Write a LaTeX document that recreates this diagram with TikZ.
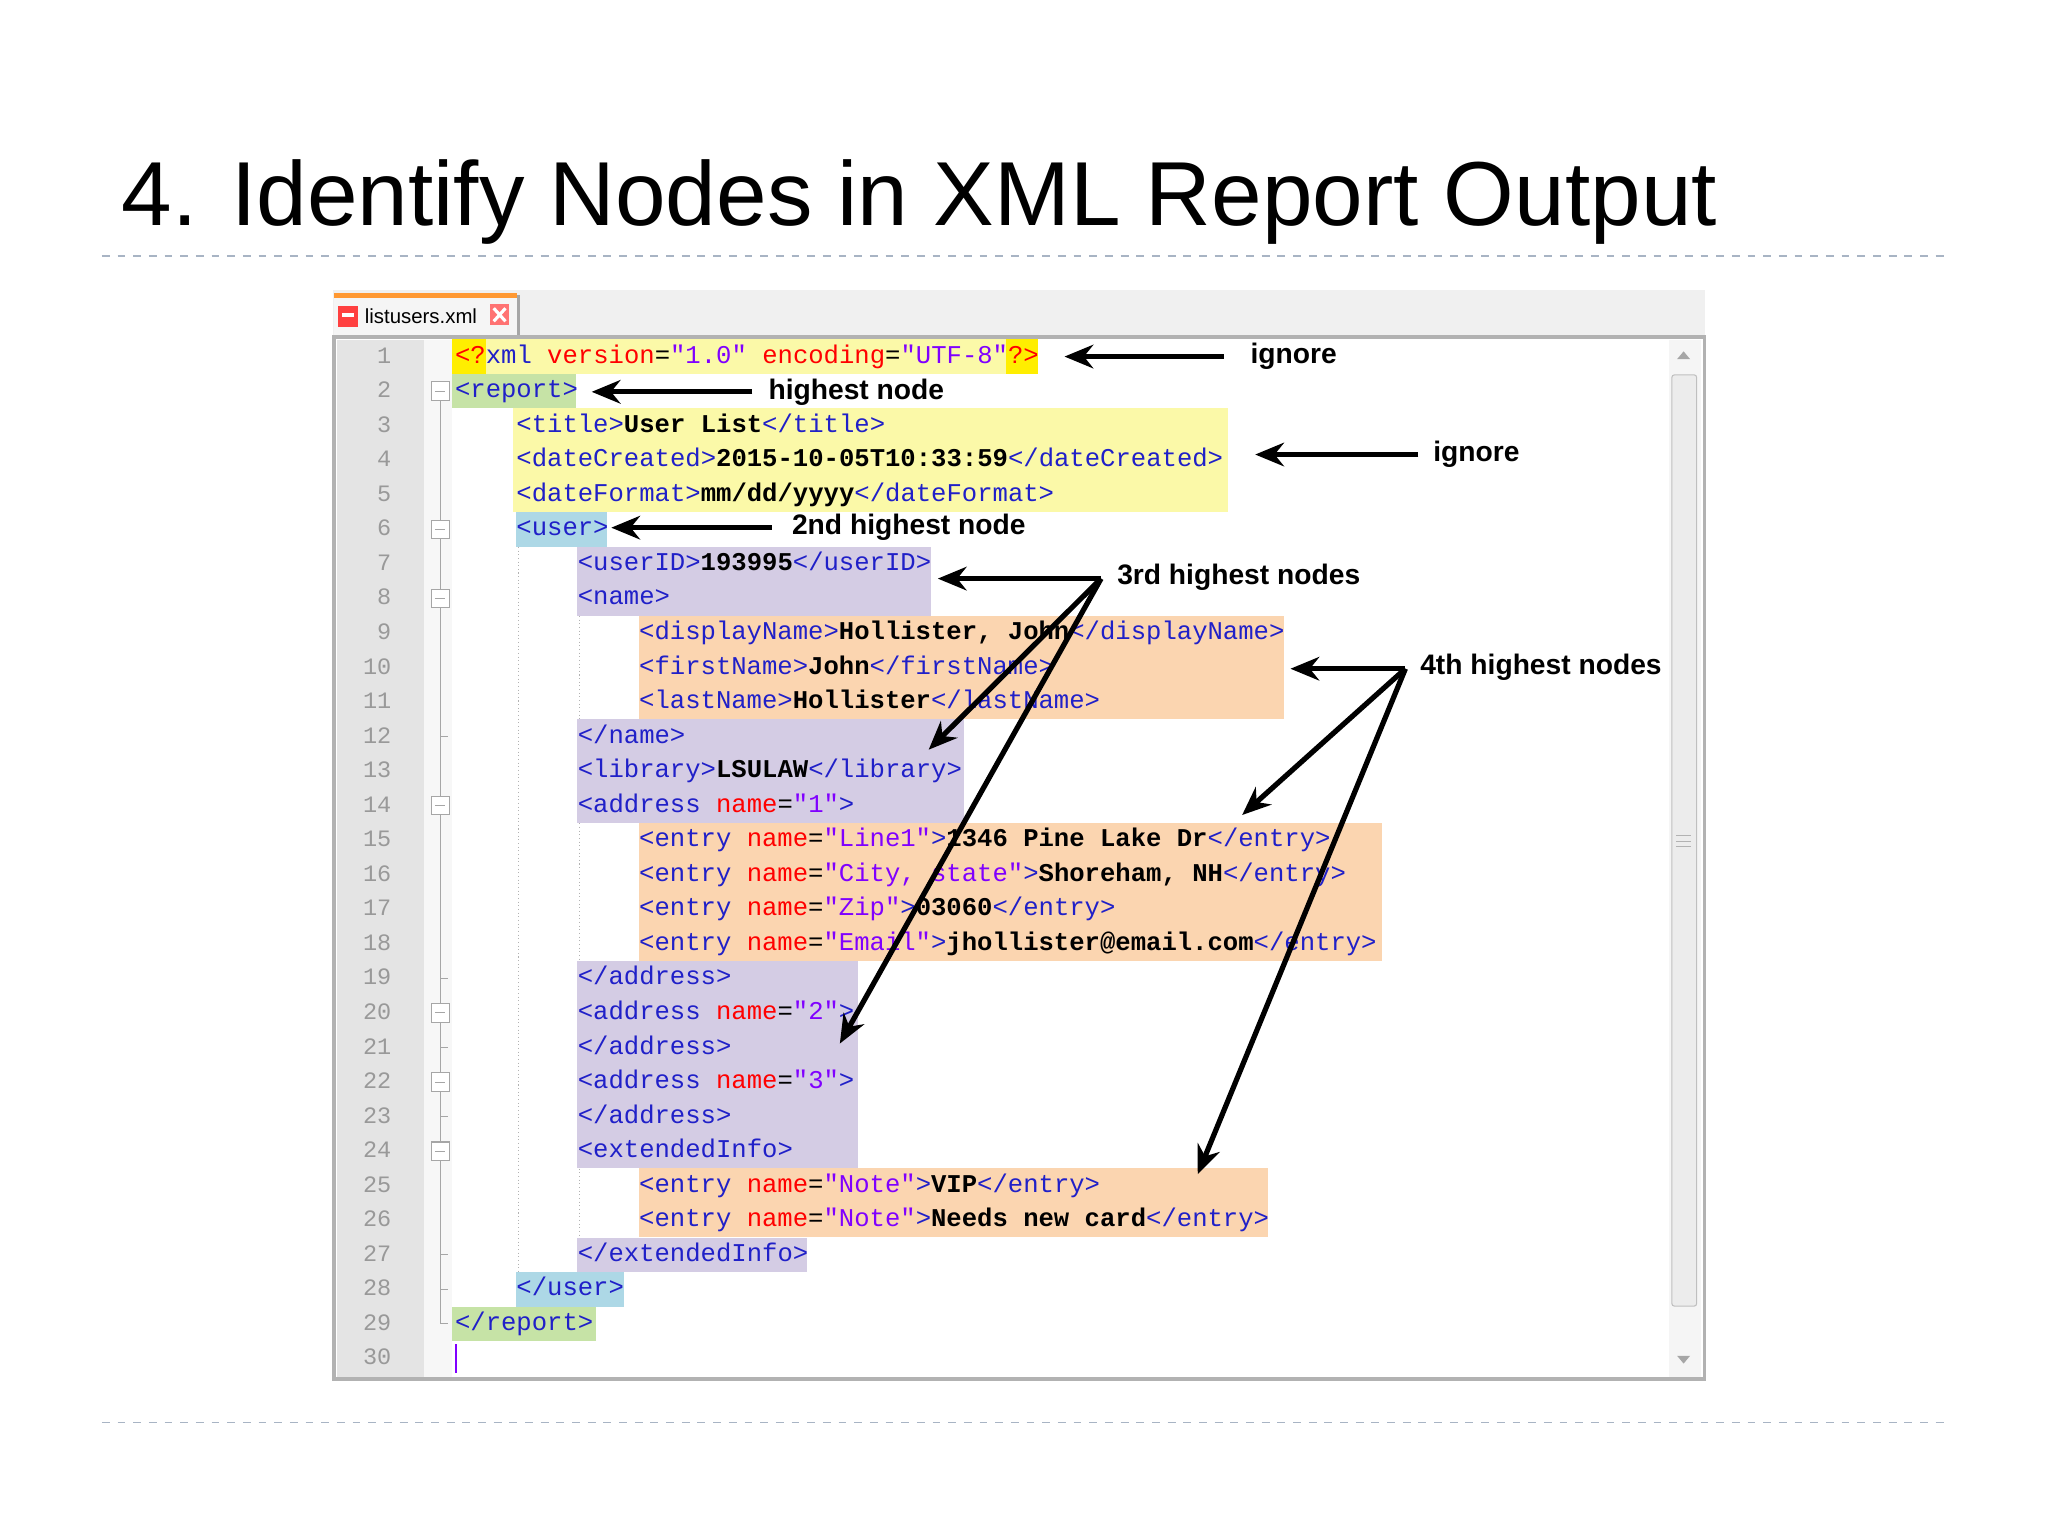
\documentclass[tikz,border=0pt]{standalone}
\usepackage{fontspec}
\setmainfont{Liberation Sans}
\newfontfamily\monof{Liberation Mono}
\usetikzlibrary{arrows.meta}
\definecolor{tagc}{HTML}{2020C8}
\definecolor{attc}{HTML}{FF0000}
\definecolor{valc}{HTML}{8000FF}
\definecolor{hlY}{HTML}{FBF9A8}
\definecolor{hlYY}{HTML}{FFEE00}
\definecolor{hlG}{HTML}{C6E3A6}
\definecolor{hlB}{HTML}{ADD8E6}
\definecolor{hlP}{HTML}{D4CCE4}
\definecolor{hlO}{HTML}{FBD5B0}
\definecolor{gut}{HTML}{E4E4E4}
\definecolor{dashc}{HTML}{A8B4C4}
\newcommand\tg[1]{\textcolor{tagc}{#1}}
\newcommand\at[1]{\textcolor{attc}{#1}}
\newcommand\va[1]{\textcolor{valc}{#1}}
\newcommand\tx[1]{\textbf{#1}}
\begin{document}
\begin{tikzpicture}[x=0.5pt,y=-0.5pt,
  code/.style={anchor=base west,inner sep=0pt,font=\monof\fontsize{9.8}{10}\selectfont},
  lnum/.style={anchor=base east,inner sep=0pt,text=gray!80,font=\monof\fontsize{9}{10}\selectfont},
  lbl/.style={anchor=west,inner sep=0pt,font=\bfseries\fontsize{10.8}{12}\selectfont},
  arr/.style={line width=2pt,-{Stealth[length=11pt,width=9pt]}}]
\useasboundingbox (0,0) rectangle (1568,1176);
\fill[white] (0,0) rectangle (1568,1176);
% title
\node[anchor=base west,inner sep=0pt,font=\fontsize{34.8}{40}\selectfont] (title) at (93,173) {4. Identify Nodes in XML Report Output};
\draw[dashc,dashed,line width=0.6pt] (78,196) -- (1490,196);
\draw[dashc,dashed,line width=0.6pt] (78,1089) -- (1490,1089);
% window
\fill[gray!12] (255,222) rectangle (1305,258);
\fill[gray!8] (256,226) rectangle (396,257);
\fill[orange!80] (256,224) rectangle (396,228);
\draw[gray!70,line width=1pt] (397,226) -- (397,257);
\fill[red!75] (259,234) rectangle (274,250);
\fill[white] (262,240) rectangle (271,243);
\node[anchor=west,inner sep=0pt,font=\fontsize{7.8}{9}\selectfont] (tab) at (279,242) {listusers.xml};
\fill[red!55] (375,233) rectangle (390,249);
\draw[white,line width=1.2pt] (378,236) -- (387,246) (387,236) -- (378,246);
\draw[gray!60,line width=1.5pt,fill=white] (256,258) rectangle (1305,1056);
\fill[gut] (258,260) rectangle (325,1054);
\fill[gray!6] (325,260) rectangle (346,1054);
% scrollbar
\fill[gray!8] (1278,260) rectangle (1302,1054);
\draw[gray!50,fill=gray!15,rounded corners=1pt] (1280,287) rectangle (1299,1000);
\draw[gray!60] (1283,640) -- (1295,640) (1283,644) -- (1295,644) (1283,648) -- (1295,648);
\fill[gray!70] (1284,275) -- (1294,275) -- (1289,269) -- cycle;
\fill[gray!70] (1284,1038) -- (1294,1038) -- (1289,1044) -- cycle;
% highlights
\def\ry#1{273+(#1-1)*26.45}
\newcommand\hl[5]{\fill[#1] (#2,{\ry{#3}-13.2}) rectangle (#5,{\ry{#4}+13.2});}
\hl{hlY}{346}{1}{1}{795}
\hl{hlYY}{346}{1}{1}{372}
\hl{hlYY}{770}{1}{1}{795}
\hl{hlG}{346}{2}{2}{441}
\hl{hlY}{393}{3}{5}{940}
\hl{hlB}{395}{6}{6}{465}
\hl{hlP}{442}{7}{8}{713}
\hl{hlO}{489}{9}{11}{983}
\hl{hlP}{442}{12}{14}{738}
\hl{hlO}{489}{15}{18}{1058}
\hl{hlP}{442}{19}{24}{657}
\hl{hlO}{489}{25}{26}{971}
\hl{hlP}{442}{27}{27}{618}
\hl{hlB}{395}{28}{28}{478}
\hl{hlG}{346}{29}{29}{456}
% indentation guides
\draw[gray!60,densely dotted] (397,{\ry{7}-13}) -- (397,{\ry{27}+13});
\draw[gray!60,densely dotted] (444,{\ry{9}-13}) -- (444,{\ry{11}+13});
\draw[gray!60,densely dotted] (444,{\ry{15}-13}) -- (444,{\ry{18}+13});
\draw[gray!60,densely dotted] (444,{\ry{25}-13}) -- (444,{\ry{26}+13});
% fold margin
\draw[gray!70] (337,{\ry{2}}) -- (337,{\ry{29}});
\draw[gray!70] (337,{\ry{29}}) -- (343,{\ry{29}});
\foreach \i in {12,19,21,23,27,28} \draw[gray!70] (337,{\ry{\i}}) -- (343,{\ry{\i}});
\foreach \i in {2,6,8,14,20,22,24} {
  \draw[gray!70,fill=white] (330,{\ry{\i}-7}) rectangle (344,{\ry{\i}+7});
  \draw[gray!70] (333,{\ry{\i}}) -- (341,{\ry{\i}});
}
% line numbers
\foreach \i in {1,...,30} \node[lnum] (n\i) at (300,{\ry{\i}+5}) {\i};
\draw[valc,line width=0.8pt] (349,{\ry{30}-11}) -- (349,{\ry{30}+11});
% code
\def\lx{348} \def\la{395} \def\lb{442} \def\lc{489}
\node[code] (c1) at (\lx,{\ry{1}+5}) {\at{<?}\tg{xml} \at{version}=\va{"1.0"} \at{encoding}=\va{"UTF-8"}\at{?>}};
\node[code] (c2) at (\lx,{\ry{2}+5}) {\tg{<report>}};
\node[code] (c3) at (\la,{\ry{3}+5}) {\tg{<title>}\tx{User List}\tg{</title>}};
\node[code] (c4) at (\la,{\ry{4}+5}) {\tg{<dateCreated>}\tx{2015-10-05T10:33:59}\tg{</dateCreated>}};
\node[code] (c5) at (\la,{\ry{5}+5}) {\tg{<dateFormat>}\tx{mm/dd/yyyy}\tg{</dateFormat>}};
\node[code] (c6) at (\la,{\ry{6}+5}) {\tg{<user>}};
\node[code] (c7) at (\lb,{\ry{7}+5}) {\tg{<userID>}\tx{193995}\tg{</userID>}};
\node[code] (c8) at (\lb,{\ry{8}+5}) {\tg{<name>}};
\node[code] (c9) at (\lc,{\ry{9}+5}) {\tg{<displayName>}\tx{Hollister, John}\tg{</displayName>}};
\node[code] (c10) at (\lc,{\ry{10}+5}) {\tg{<firstName>}\tx{John}\tg{</firstName>}};
\node[code] (c11) at (\lc,{\ry{11}+5}) {\tg{<lastName>}\tx{Hollister}\tg{</lastName>}};
\node[code] (c12) at (\lb,{\ry{12}+5}) {\tg{</name>}};
\node[code] (c13) at (\lb,{\ry{13}+5}) {\tg{<library>}\tx{LSULAW}\tg{</library>}};
\node[code] (c14) at (\lb,{\ry{14}+5}) {\tg{<address} \at{name}=\va{"1"}\tg{>}};
\node[code] (c15) at (\lc,{\ry{15}+5}) {\tg{<entry} \at{name}=\va{"Line1"}\tg{>}\tx{1346 Pine Lake Dr}\tg{</entry>}};
\node[code] (c16) at (\lc,{\ry{16}+5}) {\tg{<entry} \at{name}=\va{"City, state"}\tg{>}\tx{Shoreham, NH}\tg{</entry>}};
\node[code] (c17) at (\lc,{\ry{17}+5}) {\tg{<entry} \at{name}=\va{"Zip"}\tg{>}\tx{03060}\tg{</entry>}};
\node[code] (c18) at (\lc,{\ry{18}+5}) {\tg{<entry} \at{name}=\va{"Email"}\tg{>}\tx{jhollister@email.com}\tg{</entry>}};
\node[code] (c19) at (\lb,{\ry{19}+5}) {\tg{</address>}};
\node[code] (c20) at (\lb,{\ry{20}+5}) {\tg{<address} \at{name}=\va{"2"}\tg{>}};
\node[code] (c21) at (\lb,{\ry{21}+5}) {\tg{</address>}};
\node[code] (c22) at (\lb,{\ry{22}+5}) {\tg{<address} \at{name}=\va{"3"}\tg{>}};
\node[code] (c23) at (\lb,{\ry{23}+5}) {\tg{</address>}};
\node[code] (c24) at (\lb,{\ry{24}+5}) {\tg{<extendedInfo>}};
\node[code] (c25) at (\lc,{\ry{25}+5}) {\tg{<entry} \at{name}=\va{"Note"}\tg{>}\tx{VIP}\tg{</entry>}};
\node[code] (c26) at (\lc,{\ry{26}+5}) {\tg{<entry} \at{name}=\va{"Note"}\tg{>}\tx{Needs new card}\tg{</entry>}};
\node[code] (c27) at (\lb,{\ry{27}+5}) {\tg{</extendedInfo>}};
\node[code] (c28) at (\la,{\ry{28}+5}) {\tg{</user>}};
\node[code] (c29) at (\lx,{\ry{29}+5}) {\tg{</report>}};
% annotations
\node[lbl] (l1) at (957,273) {ignore};
\node[lbl] (l2) at (588,300) {highest node};
\node[lbl] (l3) at (1097,348) {ignore};
\node[lbl] (l4) at (606,404) {2nd highest node};
\node[lbl] (l5) at (855,442) {3rd highest nodes};
\node[lbl] (l6) at (1087,511) {4th highest nodes};
\coordinate (s1) at (937,273); \coordinate (t1) at (815,273);
\coordinate (s2) at (576,300); \coordinate (t2) at (453,300);
\coordinate (s3) at (1086,348); \coordinate (t3) at (961,348);
\coordinate (s4) at (591,404); \coordinate (t4) at (468,404);
\coordinate (s5) at (843,443);
\coordinate (t5a) at (718,443); \coordinate (t5b) at (711,574); \coordinate (t5c) at (643,799);
\coordinate (s6) at (1076,512);
\coordinate (t6a) at (988,512); \coordinate (t6b) at (951,624); \coordinate (t6c) at (917,899);
\draw[arr] (s1) -- (t1);
\draw[arr] (s2) -- (t2);
\draw[arr] (s3) -- (t3);
\draw[arr] (s4) -- (t4);
\draw[arr] (s5) -- (t5a);
\draw[arr] (s5) -- (t5b);
\draw[arr] (s5) -- (t5c);
\draw[arr] (s6) -- (t6a);
\draw[arr] (s6) -- (t6b);
\draw[arr] (s6) -- (t6c);
\end{tikzpicture}
\end{document}
